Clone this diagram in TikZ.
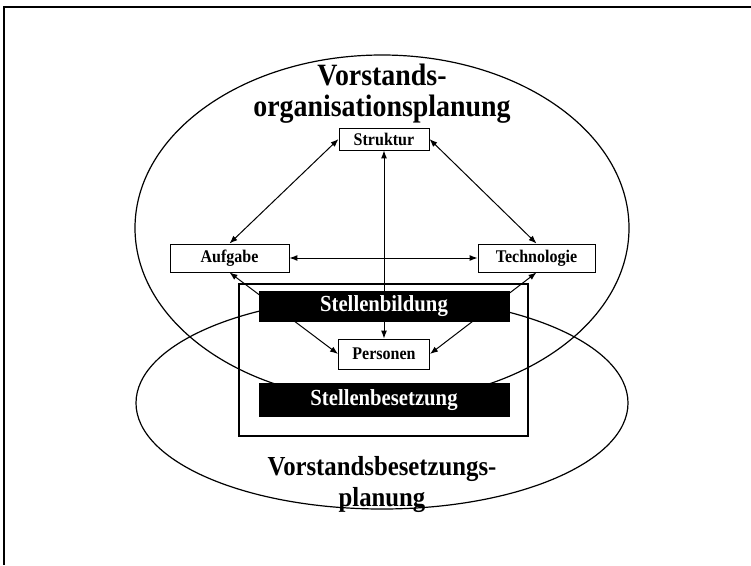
\documentclass[tikz,border=0pt]{standalone}
\usepackage{fontspec}
\setmainfont{Liberation Serif}
\newfontfamily\condfont[FakeStretch=0.9]{Liberation Serif}
\usetikzlibrary{arrows.meta,positioning}

\begin{document}
\begin{tikzpicture}[x=1pt,y=-1pt,>={Latex[length=8pt,width=6pt]},
					main node/.style={draw,fill=white,line width=0.9pt,inner sep=0pt,
						font=\condfont\fontsize{17.8}{19}\selectfont\bfseries},
					dark node/.style={fill=black,text=white,inner sep=0pt,minimum width=251pt,
						font=\condfont\fontsize{23}{24}\selectfont\bfseries},
					title node/.style={align=center,inner sep=0pt}]

					\useasboundingbox (0,0) rectangle (751,565);
					\draw[line width=1.3pt] (751,7) -- (4,7) -- (4,565);

					% planning areas
					\draw[line width=1.2pt] (382,228) ellipse [x radius=247pt,y radius=173pt];
					\draw[line width=1.2pt] (382,403) ellipse [x radius=246pt,y radius=106pt];

					\node[main node,minimum width=90pt,minimum height=22pt] (1) at (384,139) {Struktur};
					\node[main node,minimum width=119pt,minimum height=28pt] (2) at (229.5,258) {Aufgabe};
					\node[main node,minimum width=117pt,minimum height=28pt] (3) at (536.5,258) {Technologie};
					\node[main node,minimum width=91pt,minimum height=30pt] (4) at (384,354) {Personen};

					\path[<->,line width=1pt]
					(1.west) edge (2.north)
					(1.east) edge (3.north)
					(2) edge (3)
					(1) edge (4)
					(4.west) edge (2.south)
					(4.east) edge (3.south);

					\draw[line width=2.5pt] (239,284) rectangle (528,436);
					\node[dark node,minimum height=31pt] (5) at (384,306.5) {Stellenbildung};
					\node[dark node,minimum height=34pt] (6) [below=61pt of 5] {Stellenbesetzung};

					\node[title node,font=\condfont\fontsize{31}{31}\selectfont\bfseries] (7) at (382,94) {Vorstands-\\organisationsplanung};
					\node[title node,font=\condfont\fontsize{27.5}{31}\selectfont\bfseries] (8) at (382,484) {Vorstandsbesetzungs-\\planung};

				\end{tikzpicture}
\end{document}
